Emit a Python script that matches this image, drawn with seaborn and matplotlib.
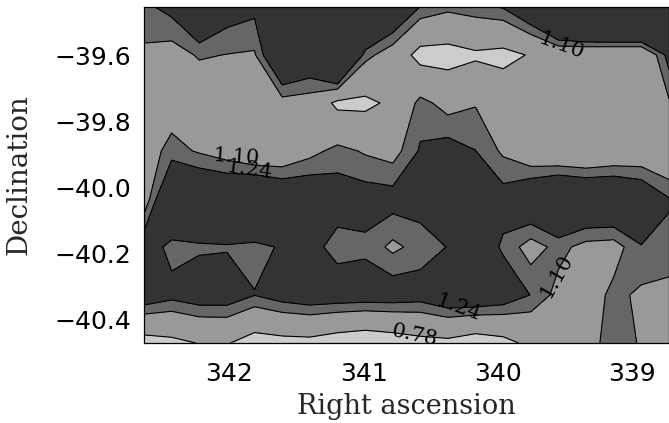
import numpy as np
import matplotlib
matplotlib.use("Agg")
import matplotlib.pyplot as plt
from matplotlib.ticker import MultipleLocator, FuncFormatter
import seaborn as sns

# grid positions (RA decreases to the right)
ra_nodes = [342.637, 342.431, 342.225, 342.019, 341.813, 341.607, 341.401,
            341.195, 340.989, 340.783, 340.578, 340.372, 340.166, 339.960,
            339.754, 339.548, 339.342, 339.136, 338.930, 338.724]
dec_nodes = [-40.470, -40.3245, -40.179, -40.0335, -39.888, -39.7425,
             -39.597, -39.4515]

# map values, one list per declination row (bottom to top)
row_40470 = [0.655, 0.71, 0.79, 0.80, 0.65, 0.685, 0.695, 0.62, 0.57, 0.62,
             0.69, 0.71, 0.62, 0.69, 0.85, 0.95, 1.00, 1.20, 1.08, 1.00]
row_40325 = [1.395, 1.30, 1.36, 1.36, 1.245, 1.335, 1.385, 1.37, 1.36, 1.36,
             1.33, 1.44, 1.445, 1.38, 1.235, 1.04, 0.99, 1.148, 1.065, 1.03]
row_40179 = [1.37, 1.18, 1.215, 1.225, 1.20, 1.255, 1.31, 1.17, 1.20, 1.06,
             1.16, 1.246, 1.40, 1.21, 1.02, 1.153, 1.04, 1.02, 1.23, 1.215]
row_40034 = [0.98, 1.58, 1.53, 1.52, 1.60, 1.475, 1.44, 1.34, 1.33, 1.32,
             1.32, 1.35, 1.35, 1.32, 1.48, 1.61, 1.55, 1.55, 1.45, 1.25]
row_39888 = [1.00, 1.16, 1.08, 1.00, 0.89, 0.915, 1.04, 1.156, 1.08, 1.025,
             1.26, 1.325, 1.243, 1.07, 0.92, 0.87, 0.85, 0.90, 0.93, 0.88]
row_39743 = [1.00, 1.00, 0.93, 0.95, 0.95, 1.03, 1.006, 0.716, 0.716, 0.835,
             1.16, 1.025, 1.087, 0.98, 0.95, 0.95, 0.95, 0.95, 0.95, 1.08]
row_39597 = [1.067, 1.017, 1.12, 1.095, 1.08, 1.59, 1.456, 2.04, 1.166, 0.98,
             0.68, 0.67, 0.737, 0.70, 0.80, 0.89, 0.86, 0.85, 0.85, 1.31]
row_39452 = [1.20, 1.30, 1.60, 1.35, 1.29, 1.60, 1.60, 1.90, 1.90, 1.54,
             1.235, 1.15, 1.197, 1.254, 1.50, 2.01, 2.26, 2.30, 2.30, 2.00]

line_levels = [0.78, 1.10, 1.24]
fill_levels = [0.0, 0.78, 1.10, 1.24, 5.0]
fill_colors = ["#cccccc", "#999999", "#666666", "#333333"]

# where the level labels sit: (level, ra, dec, text angle, lift in dec)
label_spots = [(1.10, 339.529, -39.582, -20, 0.0),
               (1.10, 341.936, -39.897, -4, 0.015),
               (1.24, 341.847, -39.936, -8, 0.015),
               (1.24, 340.297, -40.376, -20, 0.0),
               (0.78, 340.625, -40.450, -12, 0.0),
               (1.10, 339.566, -40.267, 60, 0.0)]

sns.set_style("ticks")
plt.rcParams['font.family'] = ['DejaVu Sans']

Z = np.array([row_40470, row_40325, row_40179, row_40034,
              row_39888, row_39743, row_39597, row_39452])

fig = plt.figure(figsize=(6.69, 4.23), dpi=100)
ax = fig.add_axes([144 / 669, 80 / 423, 525 / 669, 336 / 423])

ax.contourf(ra_nodes, dec_nodes, Z, levels=fill_levels, colors=fill_colors)

# one contour set per level so each gets its own labels
for lev in line_levels:
    cs = ax.contour(ra_nodes, dec_nodes, Z, levels=[lev],
                    colors="black", linewidths=0.8)
    spots = [s for s in label_spots if s[0] == lev]
    txts = ax.clabel(cs, manual=[(s[1], s[2]) for s in spots], inline=False,
                     fmt="%.2f", fontsize=15, colors="black")
    for t, s in zip(txts, spots):
        t.set_family("DejaVu Serif")
        t.set_rotation(s[3])
        x, y = t.get_position()
        t.set_position((x, y + s[4]))

ax.set_xlim(ra_nodes[0], ra_nodes[-1])
ax.set_ylim(dec_nodes[0], dec_nodes[-1])

ax.xaxis.set_major_locator(MultipleLocator(1))
ax.xaxis.set_minor_locator(MultipleLocator(0.1))
ax.yaxis.set_major_locator(MultipleLocator(0.2))
ax.yaxis.set_minor_locator(MultipleLocator(0.05))
ax.xaxis.set_major_formatter(FuncFormatter(lambda v, p: f"{v:.0f}"))
ax.yaxis.set_major_formatter(
    FuncFormatter(lambda v, p: f"{v:.1f}".replace("-", "\u2212")))

ax.tick_params(which="both", direction="in", top=True, right=True,
               width=0.8, colors="black", labelsize=18)
ax.tick_params(which="major", length=7.5)
ax.tick_params(which="minor", length=3)
ax.tick_params(axis="x", pad=14)
ax.tick_params(axis="y", pad=9)
for s in ax.spines.values():
    s.set_linewidth(0.9)
    s.set_color("black")

ax.set_xlabel("Right ascension", fontfamily="DejaVu Serif", fontsize=19.5,
              labelpad=5)
ax.set_ylabel("Declination", fontfamily="DejaVu Serif", fontsize=20,
              labelpad=16)

fig.savefig("out.png", dpi=100)
